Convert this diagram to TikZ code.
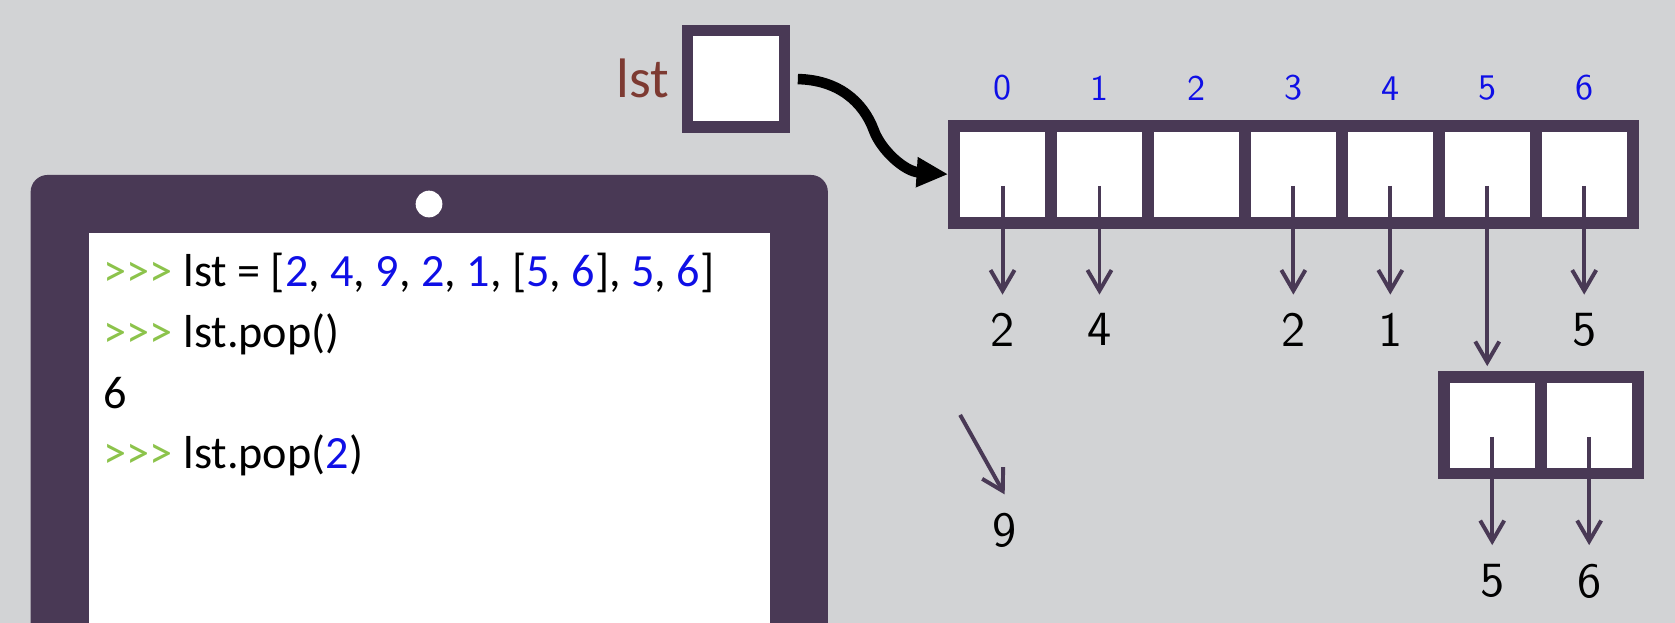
\documentclass[tikz,border=0pt]{standalone}
\usepackage{fontspec}
\usetikzlibrary{positioning,arrows.meta}
\newfontfamily\codefont{Carlito}
\definecolor{bggrey}{RGB}{210,211,213}
\definecolor{darkframe}{RGB}{73,57,85}
\definecolor{promptgreen}{RGB}{140,195,75}
\definecolor{numblue}{RGB}{15,15,230}
\definecolor{varbrown}{RGB}{125,58,50}
\newcommand{\pyprompt}{\textcolor{promptgreen}{>>>}}
\newcommand{\pynum}[1]{\textcolor{numblue}{#1}}

\begin{document}
\begin{tikzpicture}[x=0.01cm, y=-0.01cm]
\tikzstyle{cell}=[draw=darkframe, fill=white, line width=3.13pt,
  minimum width=0.907cm, minimum height=0.905cm, inner sep=0pt, outer sep=0pt]
\tikzstyle{idx}=[inner sep=0pt, text=numblue, font=\sffamily\fontsize{9.6}{10}\selectfont]
\tikzstyle{val}=[inner sep=4.8pt, font=\sffamily\fontsize{13.1}{14}\selectfont]
\tikzstyle{ptr}=[draw=darkframe, line width=1.05pt, -{Straight Barb[length=5.5pt,width=6.4pt]}]
\tikzstyle{code}=[anchor=base west, inner sep=0pt, font=\codefont\fontsize{12.3}{14}\selectfont]

% background
\useasboundingbox (0,0) rectangle (1568,583);
\fill[bggrey] (0,0) rectangle (1568,583);
\clip (0,0) rectangle (1568,583);

% tablet
\fill[darkframe, rounded corners=4.5pt] (28.7,163.8) rectangle (775,650);
\fill[white] (83.6,217.8) rectangle (720.5,650);
\fill[white] (401.6,191) circle (12.5);

% shell lines
\node[code] (line1) at (96.6,268.5) {\pyprompt{} lst = [\pynum{2}, \pynum{4}, \pynum{9},
  \pynum{2}, \pynum{1}, [\pynum{5}, \pynum{6}], \pynum{5}, \pynum{6}]};
\node[code] (line2) at (96.6,325.5) {\pyprompt{} lst.pop()};
\node[code] (line3) at (96.6,382) {6};
\node[code] (line4) at (96.6,438.5) {\pyprompt{} lst.pop(\pynum{2})};

% variable
\node[cell] (lstbox) at (689,73.8) {};
\node[inner sep=0pt, text=varbrown, font=\codefont\fontsize{14.8}{16}\selectfont,
  left=0.165cm of lstbox] (lstname) {lst};

% outer list
\node[cell] (c0) at (938.5,163.5) {};
\node[cell, right=0pt of c0] (c1) {};
\node[cell, right=0pt of c1] (c2) {};
\node[cell, right=0pt of c2] (c3) {};
\node[cell, right=0pt of c3] (c4) {};
\node[cell, right=0pt of c4] (c5) {};
\node[cell, right=0pt of c5] (c6) {};

% indices
\node[idx, above=0.233cm of c0] (i0) {0};
\node[idx, above=0.233cm of c1] (i1) {1};
\node[idx, above=0.233cm of c2] (i2) {2};
\node[idx, above=0.233cm of c3] (i3) {3};
\node[idx, above=0.233cm of c4] (i4) {4};
\node[idx, above=0.233cm of c5] (i5) {5};
\node[idx, above=0.233cm of c6] (i6) {6};

% values
\node[val, below=0.67cm of c0] (v0) {2};
\node[val, below=0.67cm of c1] (v1) {4};
\node[val, below=0.67cm of c3] (v3) {2};
\node[val, below=0.67cm of c4] (v4) {1};
\node[val, below=0.67cm of c6] (v6) {5};
\draw[ptr, shorten <=0.105cm] (c0.center) -- (v0);
\draw[ptr, shorten <=0.105cm] (c1.center) -- (v1);
\draw[ptr, shorten <=0.105cm] (c3.center) -- (v3);
\draw[ptr, shorten <=0.105cm] (c4.center) -- (v4);
\draw[ptr, shorten <=0.105cm] (c6.center) -- (v6);

% inner list
\node[cell] (s0) at (1396.9,398) {};
\node[cell, right=0pt of s0] (s1) {};
\draw[ptr, shorten <=0.105cm, shorten >=0.1cm] (c5.center) -- (c5.center |- s0.north);
\node[val, below=0.67cm of s0] (sv0) {5};
\node[val, below=0.67cm of s1] (sv1) {6};
\draw[ptr, shorten <=0.11cm] (s0.center) -- (sv0);
\draw[ptr, shorten <=0.11cm] (s1.center) -- (sv1);

% popped item
\node[val] (popped) at (940.5,496.5) {9};
\coordinate (popfrom) at (898.8,388.4);
\draw[ptr] (popfrom) -- (popped.north);

% reference
\coordinate (bend) at (818,122);
\draw[line width=2.8pt, -{Triangle[length=8.4pt,width=7.5pt]},
  shorten <=0.125cm, shorten >=0.055cm]
  (lstbox.east) .. controls +(50,1) and +(-10,-27) .. (bend)
  .. controls +(7,19) and +(-46,-3) .. (c0.west);
\end{tikzpicture}
\end{document}
